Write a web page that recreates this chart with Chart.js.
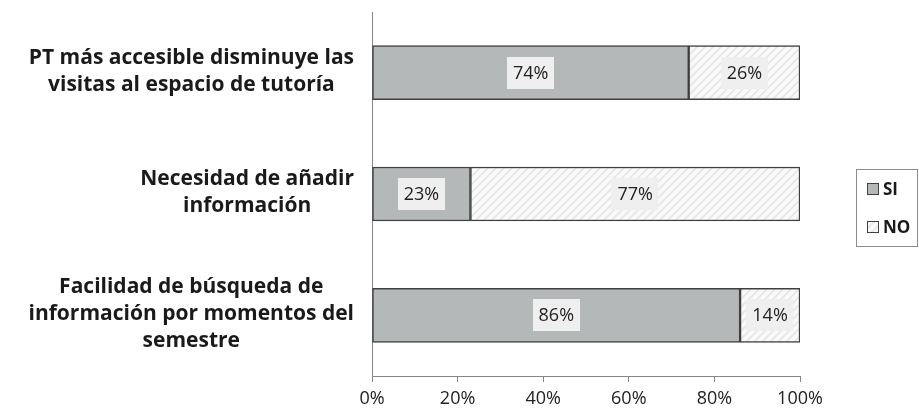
<!DOCTYPE html>
<html>
<head>
<meta charset="utf-8">
<script src="https://cdn.jsdelivr.net/npm/chart.js@4"></script>
<style>
html,body{margin:0;padding:0;background:#fff;}
#wrap{width:919px;height:414px;position:relative;}
</style>
</head>
<body>
<div id="wrap"><canvas id="c"></canvas></div>
<script>
const categories = [
  ["PT más accesible disminuye las", "visitas al espacio de tutoría"],
  ["Necesidad de añadir", "información"],
  ["Facilidad de búsqueda de", "información por momentos del", "semestre"]
];
const seriesNames = ["SI", "NO"];
const siValues = [74, 23, 86];
const noValues = [26, 77, 14];
const xTickValues = [0, 20, 40, 60, 80, 100];

function hatch() {
  const s = 8;
  const c = document.createElement('canvas');
  c.width = s; c.height = s;
  const g = c.getContext('2d');
  g.fillStyle = '#f9f9f9';
  g.fillRect(0, 0, s, s);
  g.strokeStyle = '#e6e6e6';
  g.lineWidth = 1.8;
  g.beginPath();
  g.moveTo(0, s); g.lineTo(s, 0);
  g.moveTo(-s / 2, s / 2); g.lineTo(s / 2, -s / 2);
  g.moveTo(s / 2, s * 1.5); g.lineTo(s * 1.5, s / 2);
  g.stroke();
  return document.getElementById('c').getContext('2d').createPattern(c, 'repeat');
}

const FONT = '"Open Sans", Lato, sans-serif';

const labelPlugin = {
  id: 'customLabels',
  afterDraw(chart) {
    const ctx = chart.ctx;
    const y = chart.scales.y;
    ctx.save();
    ctx.font = 'bold 21px ' + FONT;
    ctx.fillStyle = '#1a1a1a';
    ctx.textAlign = 'center';
    ctx.textBaseline = 'middle';
    const right = 354, lh = 27;
    categories.forEach((lines, i) => {
      const cy = y.getPixelForValue(i);
      const maxW = Math.max(...lines.map(l => ctx.measureText(l).width));
      const cx = right - maxW / 2;
      const top = cy - (lines.length - 1) * lh / 2 - 1.5;
      lines.forEach((l, k) => ctx.fillText(l, cx, top + k * lh));
    });
    ctx.restore();

    ctx.save();
    const lx = 856.5, ly = 169.5, lw = 61, lhh = 77;
    ctx.strokeStyle = '#8c8c8c';
    ctx.lineWidth = 1;
    ctx.strokeRect(lx, ly, lw, lhh);
    ctx.font = 'bold 17px ' + FONT;
    ctx.textBaseline = 'middle';
    ctx.textAlign = 'left';
    chart.data.datasets.forEach((ds, i) => {
      const cy = 189 + i * 38;
      ctx.fillStyle = ds.backgroundColor;
      ctx.fillRect(867, cy - 6, 12, 12);
      ctx.strokeStyle = '#404040';
      ctx.lineWidth = 1;
      ctx.strokeRect(867.5, cy - 5.5, 11, 11);
      ctx.fillStyle = '#1a1a1a';
      ctx.fillText(ds.label, 883, cy + 1);
    });
    ctx.restore();
  },
  afterDatasetsDraw(chart) {
    const ctx = chart.ctx;
    ctx.save();
    ctx.font = '18px ' + FONT;
    ctx.textAlign = 'center';
    ctx.textBaseline = 'middle';
    chart.data.datasets.forEach((ds, di) => {
      const meta = chart.getDatasetMeta(di);
      meta.data.forEach((el, i) => {
        const p = el.getCenterPoint();
        const txt = ds.data[i] + '%';
        const w = ctx.measureText(txt).width + 12;
        const h = 32;
        ctx.fillStyle = '#efefef';
        ctx.fillRect(Math.round(p.x - w / 2), Math.round(p.y - h / 2), Math.round(w), h);
        ctx.fillStyle = '#222';
        ctx.fillText(txt, p.x, p.y + 1);
      });
    });
    ctx.restore();
  }
};

const pat = hatch();

new Chart(document.getElementById('c'), {
  type: 'bar',
  data: {
    labels: categories,
    datasets: [
      { label: seriesNames[0], data: siValues, backgroundColor: '#b5b8b9', borderColor: '#404040', borderWidth: 1.5, borderSkipped: false },
      { label: seriesNames[1], data: noValues, backgroundColor: pat, borderColor: '#404040', borderWidth: 1.5, borderSkipped: false }
    ]
  },
  options: {
    indexAxis: 'y',
    responsive: true,
    maintainAspectRatio: false,
    animation: false,
    layout: { padding: { left: 372, right: 119, top: 12, bottom: 0 } },
    plugins: { legend: { display: false }, tooltip: { enabled: false } },
    datasets: { bar: { barThickness: 54 } },
    scales: {
      x: {
        stacked: true,
        min: 0, max: 100,
        afterBuildTicks(s) { s.ticks = xTickValues.map(v => ({ value: v })); },
        afterFit(s) { s.height = 38; },
        ticks: { callback: v => v + '%', color: '#222', font: { family: FONT, size: 18 }, padding: 6 },
        grid: { display: true, drawOnChartArea: false, drawTicks: true, tickLength: 6, color: '#868686' },
        border: { display: true, color: '#868686', width: 1 }
      },
      y: {
        stacked: true,
        afterFit(s) { s.width = 0; },
        ticks: { display: false },
        grid: { display: false },
        border: { display: true, color: '#868686', width: 1 }
      }
    }
  },
  plugins: [labelPlugin]
});
</script>
</body>
</html>
